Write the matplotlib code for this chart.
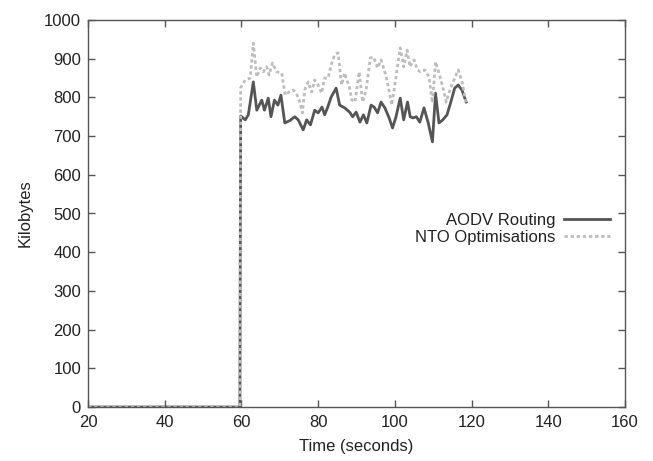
import matplotlib
matplotlib.use("Agg")
import matplotlib.pyplot as plt

plt.rcParams['font.family'] = ['Liberation Sans', 'DejaVu Sans']

# zero phase (both series)
t_zero = [20, 30, 40, 50, 59.6]
v_zero = [0, 0, 0, 0, 0]

aodv_t = [59.8, 61.0, 61.8, 63.1, 64.0, 65.3, 66.0, 67.0, 67.7, 68.6, 69.5, 70.3, 71.3,
          72.6, 73.9, 74.8, 76.1, 77.0, 78.0, 79.1, 80.0, 81.0, 81.7, 82.5, 83.4, 84.7,
          85.6, 86.9, 88.2, 89.0, 89.9, 90.9, 91.8, 92.7, 93.8, 94.6, 95.5, 96.4, 97.4,
          98.5, 99.4, 100.3, 101.4, 102.3, 103.3, 104.0, 104.7, 105.6, 106.5, 107.6,
          108.7, 109.8, 110.6, 111.5, 112.5, 113.6, 114.5, 115.6, 116.5, 117.5, 118.6]
aodv_v = [752, 742, 755, 840, 767, 793, 767, 798, 750, 793, 780, 806, 734,
          740, 750, 742, 716, 742, 729, 767, 760, 775, 755, 775, 801, 824,
          780, 773, 762, 750, 762, 736, 755, 734, 780, 775, 760, 788, 773,
          747, 721, 750, 798, 742, 788, 750, 747, 750, 736, 773,
          734, 685, 811, 734, 742, 755, 785, 824, 832, 819, 788]

nto_t = [59.8, 61.0, 62.3, 63.1, 64.0, 64.9, 65.7, 66.6, 67.2, 68.1, 69.2, 70.5, 71.4, 72.4,
         73.5, 74.3, 75.2, 75.9, 76.5, 77.4, 78.3, 79.1, 80.0, 80.9, 81.7, 82.6, 83.4,
         84.3, 85.2, 86.1, 86.9, 88.2, 88.8, 89.6, 90.7, 91.6, 92.5, 93.6, 94.5, 95.5,
         96.4, 97.4, 98.3, 99.2, 100.3, 101.4, 102.3, 103.2, 103.9, 105.0, 105.9, 106.7,
         107.8, 108.9, 109.8, 110.6, 111.5, 112.5, 113.4, 114.5, 115.4, 116.5, 117.6, 118.6]
nto_v = [825, 845, 850, 940, 853, 876, 866, 879, 858, 889, 866, 863, 806, 814,
         819, 811, 788, 760, 819, 840, 814, 845, 832, 811, 850, 850, 884,
         910, 915, 832, 863, 824, 793, 788, 866, 788, 819, 902, 904, 876,
         897, 866, 827, 780, 853, 928, 879, 922, 879, 897, 871, 866,
         871, 853, 786, 892, 863, 827, 788, 824, 845, 871, 837, 780]

x_ticks = [20, 40, 60, 80, 100, 120, 140, 160]
y_ticks = [0, 100, 200, 300, 400, 500, 600, 700, 800, 900, 1000]

FS = 12

fig = plt.figure(figsize=(6.53, 4.61), dpi=100)
ax = fig.add_axes([88/653, 1-407/461, 537/653, 387/461])

ax.plot(t_zero + aodv_t, v_zero + aodv_v, color='#555555', lw=2.0,
        label='AODV Routing')
ax.plot(t_zero + nto_t, v_zero + nto_v, color='#bdbdbd', lw=2.0,
        linestyle=(0, (1.2, 1.0)), label='NTO Optimisations')

ax.set_xlim(20, 160)
ax.set_ylim(0, 1000)
ax.set_xticks(x_ticks)
ax.set_yticks(y_ticks)
ax.tick_params(direction='in', length=5, width=1, color='#555555',
               top=True, right=True, labelsize=FS, labelcolor='#222222')
ax.tick_params(axis='y', pad=5)
ax.tick_params(axis='x', pad=6)
for s in ax.spines.values():
    s.set_color('#555555')
    s.set_linewidth(1.0)

ax.set_xlabel('Time (seconds)', fontsize=FS, color='#222222', labelpad=6)
ax.set_ylabel('Kilobytes', fontsize=FS, color='#222222', labelpad=8)

leg = ax.legend(loc='center right', bbox_to_anchor=(0.985, 0.46), frameon=False,
                markerfirst=False, fontsize=FS, handlelength=2.8,
                labelspacing=0.1, handletextpad=0.5, borderaxespad=0)
for t in leg.get_texts():
    t.set_ha('right')
    t.set_color('#222222')

fig.savefig('out.png', dpi=100)
